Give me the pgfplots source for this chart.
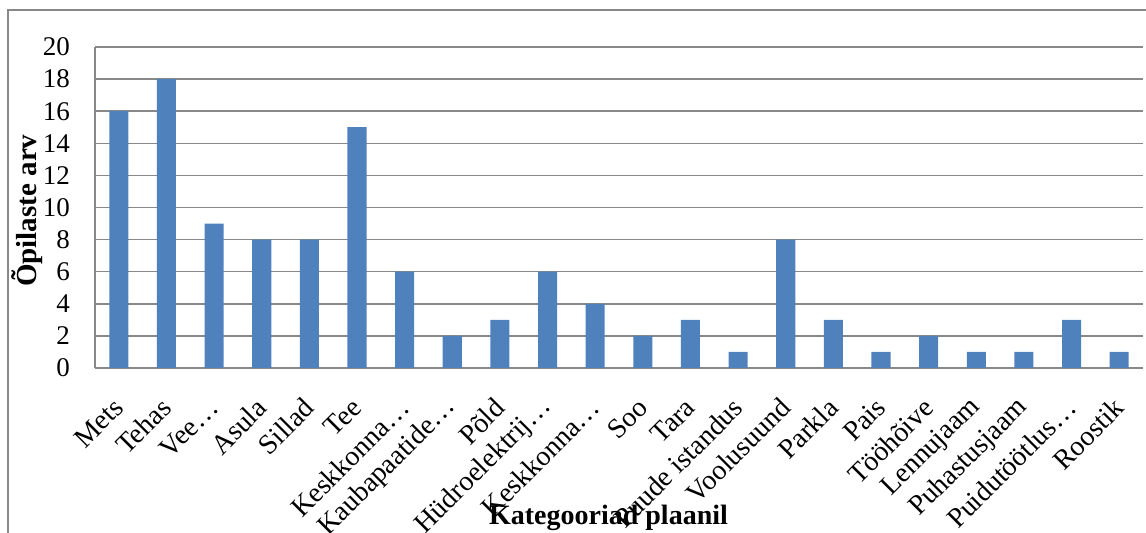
\documentclass[border=0pt]{standalone}
\usepackage{pgfplots}
\pgfplotsset{compat=1.18}
\usepackage{fontspec}
\setmainfont{Liberation Serif}
\definecolor{barblue}{HTML}{4F81BD}
\definecolor{gridgray}{HTML}{888888}
\begin{document}
\begin{tikzpicture}
\begin{axis}[
  at={(47.5pt,82.5pt)}, anchor=south west,
  scale only axis, width=524pt, height=160.5pt,
  ymin=0, ymax=20, ytick={0,2,...,20},
  xmin=-0.5, xmax=21.5,
  xtick=data,
  xticklabels={Mets,Tehas,Vee…,Asula,Sillad,Tee,Keskkonna…,Kaubapaatide…,Põld,Hüdroelektrij…,Keskkonna…,Soo,Tara,Puude istandus,Voolusuund,Parkla,Pais,Tööhõive,Lennujaam,Puhastusjaam,Puidutöötlus…,Roostik},
  axis x line*=bottom, axis y line*=left,
  axis line style={gridgray, line width=0.75pt},
  major tick length=0pt,
  ymajorgrids, grid style={gridgray, line width=0.75pt},
  /pgf/number format/assume math mode=true,
  yticklabel style={font=\fontsize{13.5}{15}\selectfont, xshift=-9pt},
  xticklabel style={font=\fontsize{14}{16}\selectfont, xshift=0pt, yshift=-17.5pt, rotate=45, anchor=east, inner sep=0pt},
  clip=false,
]
\addplot[ybar, bar width=0.4, fill=barblue, draw=none] coordinates {
(0,16) (1,18) (2,9) (3,8) (4,8) (5,15) (6,6) (7,2) (8,3) (9,6) (10,4)
(11,2) (12,3) (13,1) (14,8) (15,3) (16,1) (17,2) (18,1) (19,1) (20,3) (21,1)};
\node[font=\bfseries\fontsize{14}{16}\selectfont] at (axis description cs:0.49,-0.467) {Kategooriad plaanil};
\node[font=\bfseries\fontsize{14.5}{17}\selectfont, rotate=90] at (axis description cs:-0.065,0.49) {Õpilaste arv};
\end{axis}
% chart frame
\draw[gridgray, line width=0.7pt] (4pt,-2pt) -- (4pt,261.5pt) -- (576pt,261.5pt);
\pgfresetboundingbox
\useasboundingbox (0pt,0pt) rectangle (573pt,266.5pt);
\end{tikzpicture}
\end{document}
